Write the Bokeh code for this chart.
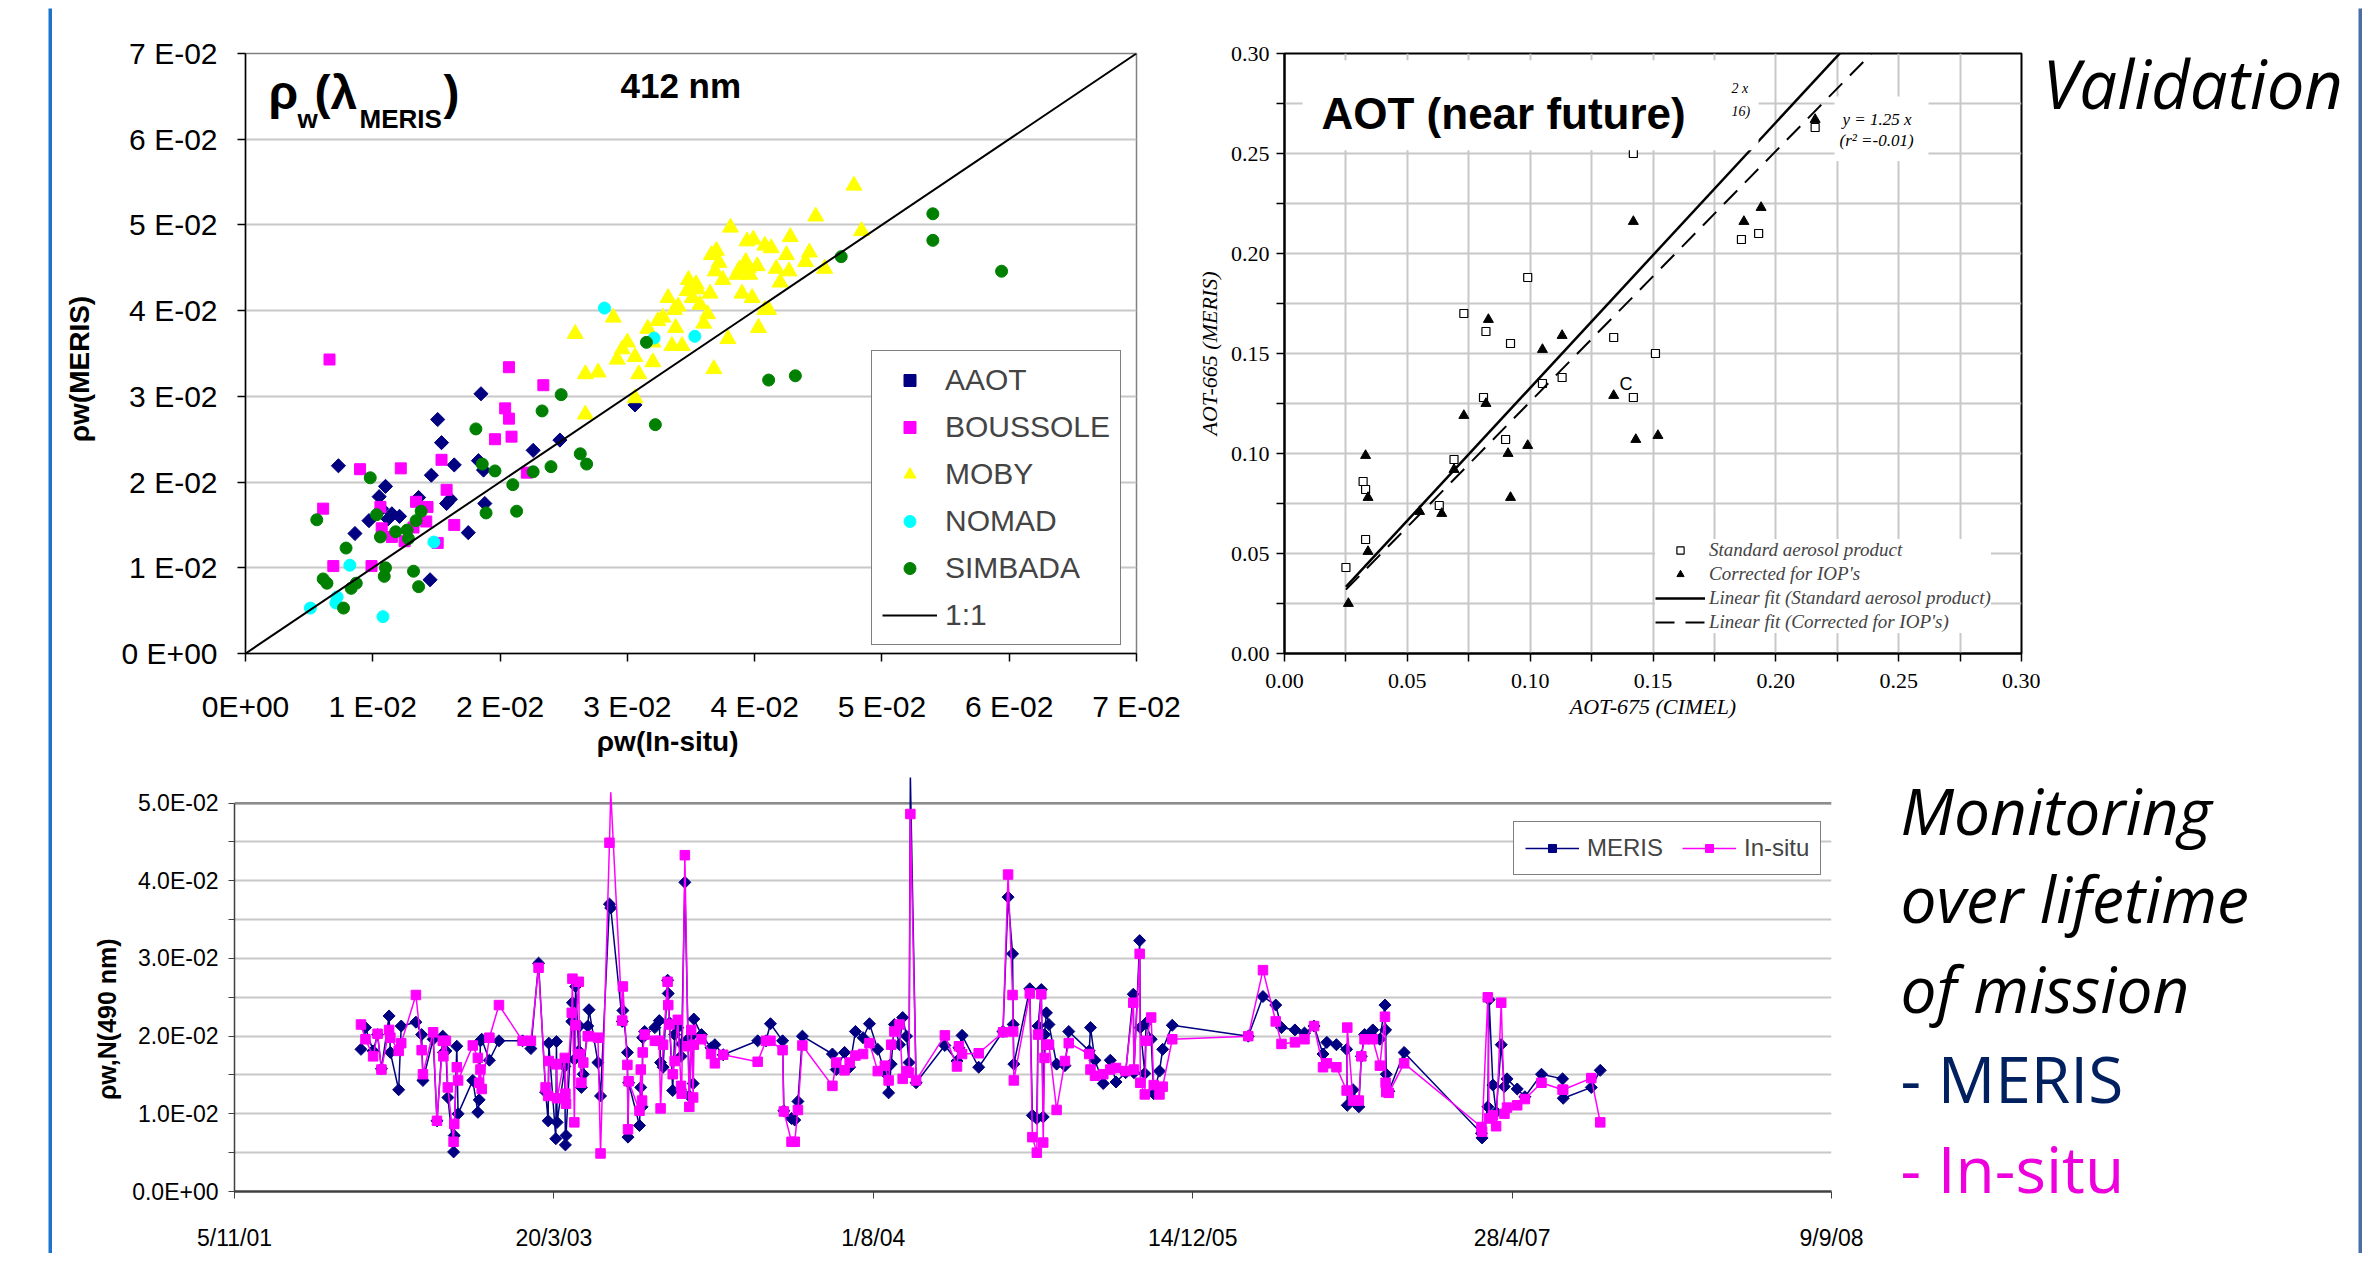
import math
import pandas as pd
from bokeh.plotting import figure
from bokeh.models import (Range1d, FixedTicker, CustomJSTickFormatter, Legend, LegendItem,
                          Label, BoxAnnotation, Span, ColumnDataSource, CDSView, BooleanFilter, Spacer)
from bokeh.layouts import row, column
from bokeh.embed import file_html
from bokeh.resources import INLINE

# ======================= DATA =======================
# --- scatter: rho_w(412) MERIS vs in-situ ---
aaot_x = [7.3e-3, 8.6e-3, 9.7e-3, 10.5e-3, 10.7e-3, 11.0e-3, 11.2e-3, 11.5e-3, 12.1e-3, 13.6e-3, 14.6e-3, 14.5e-3,
          15.1e-3, 15.4e-3, 15.8e-3, 16.1e-3, 16.4e-3, 17.5e-3, 18.3e-3, 18.5e-3, 18.7e-3, 18.8e-3, 22.6e-3, 24.7e-3, 30.6e-3]
aaot_y = [21.9e-3, 14.0e-3, 15.5e-3, 18.3e-3, 16.9e-3, 19.5e-3, 15.7e-3, 16.3e-3, 16.0e-3, 18.2e-3, 20.8e-3, 8.6e-3,
          27.3e-3, 24.6e-3, 17.5e-3, 18.0e-3, 22.0e-3, 14.1e-3, 22.5e-3, 30.3e-3, 21.4e-3, 17.5e-3, 23.7e-3, 24.9e-3, 29.0e-3]
bous_x = [6.6e-3, 6.1e-3, 6.9e-3, 9.0e-3, 9.9e-3, 10.6e-3, 10.7e-3, 11.5e-3, 12.2e-3, 12.5e-3, 13.2e-3, 13.4e-3, 14.2e-3,
          14.3e-3, 15.1e-3, 15.4e-3, 15.8e-3, 16.4e-3, 19.6e-3, 20.4e-3, 20.7e-3, 20.7e-3, 20.9e-3, 22.1e-3, 23.4e-3]
bous_y = [34.3e-3, 16.9e-3, 10.2e-3, 21.5e-3, 10.2e-3, 17.1e-3, 14.6e-3, 13.6e-3, 21.6e-3, 13.1e-3, 14.7e-3, 17.7e-3, 15.4e-3,
          17.1e-3, 12.9e-3, 22.6e-3, 19.1e-3, 15.0e-3, 25.0e-3, 28.6e-3, 27.4e-3, 33.4e-3, 25.3e-3, 21.1e-3, 31.3e-3]
moby_x = [25.9e-3, 26.7e-3, 26.7e-3, 27.7e-3, 28.9e-3, 29.2e-3, 29.6e-3, 30.0e-3, 30.6e-3, 30.6e-3, 30.9e-3, 31.6e-3,
          32.0e-3, 32.0e-3, 32.4e-3, 32.8e-3, 33.2e-3, 33.5e-3, 33.7e-3, 33.8e-3, 34.3e-3, 34.7e-3, 34.8e-3, 35.1e-3,
          35.4e-3, 35.7e-3, 36.0e-3, 36.3e-3, 36.6e-3, 36.8e-3, 36.9e-3, 37.2e-3, 37.5e-3, 37.9e-3, 38.1e-3, 38.6e-3,
          39.0e-3, 39.3e-3, 39.4e-3, 39.6e-3, 39.8e-3, 39.9e-3, 40.2e-3, 40.3e-3, 40.8e-3, 41.1e-3, 40.8e-3, 41.3e-3,
          41.7e-3, 42.0e-3, 42.5e-3, 42.7e-3, 42.8e-3, 44.0e-3, 44.3e-3, 44.8e-3, 45.5e-3, 47.8e-3, 48.4e-3, 36.5e-3,
          37.0e-3, 38.8e-3, 39.5e-3, 35.5e-3, 34.0e-3]
moby_y = [37.3e-3, 27.9e-3, 32.6e-3, 32.8e-3, 39.2e-3, 34.3e-3, 35.5e-3, 36.3e-3, 29.8e-3, 34.6e-3, 32.6e-3, 37.9e-3,
          34.0e-3, 36.3e-3, 38.8e-3, 39.2e-3, 41.5e-3, 35.9e-3, 40.1e-3, 38.0e-3, 35.9e-3, 42.3e-3, 43.6e-3, 41.5e-3,
          43.1e-3, 40.7e-3, 38.5e-3, 39.6e-3, 46.5e-3, 33.2e-3, 44.6e-3, 45.6e-3, 43.6e-3, 36.7e-3, 49.7e-3, 44.2e-3,
          42.0e-3, 45.7e-3, 48.1e-3, 44.2e-3, 41.5e-3, 48.3e-3, 45.2e-3, 38.0e-3, 40.1e-3, 40.1e-3, 47.6e-3, 47.3e-3,
          44.9e-3, 43.3e-3, 46.5e-3, 44.6e-3, 48.6e-3, 45.7e-3, 46.8e-3, 51.0e-3, 44.9e-3, 54.6e-3, 49.3e-3, 42.0e-3,
          47.0e-3, 44.8e-3, 45.0e-3, 42.5e-3, 40.5e-3]
nomad_x = [5.1e-3, 7.2e-3, 7.1e-3, 8.2e-3, 10.8e-3, 14.8e-3, 28.2e-3, 32.1e-3, 35.3e-3]
nomad_y = [5.3e-3, 6.6e-3, 5.9e-3, 10.3e-3, 4.3e-3, 13.0e-3, 40.3e-3, 36.8e-3, 37.0e-3]
simb_x = [5.6e-3, 6.1e-3, 6.4e-3, 7.7e-3, 7.9e-3, 8.3e-3, 8.7e-3, 9.8e-3, 10.3e-3, 10.6e-3, 11.0e-3, 10.9e-3, 11.8e-3,
          12.7e-3, 12.8e-3, 13.2e-3, 13.4e-3, 13.6e-3, 13.8e-3, 18.1e-3, 18.6e-3, 18.9e-3, 19.6e-3, 21.0e-3, 21.3e-3,
          22.6e-3, 23.3e-3, 24.0e-3, 24.8e-3, 26.3e-3, 26.8e-3, 31.5e-3, 32.2e-3, 41.1e-3, 43.2e-3, 46.8e-3, 54.0e-3,
          54.0e-3, 59.4e-3]
simb_y = [15.6e-3, 8.7e-3, 8.2e-3, 5.3e-3, 12.3e-3, 7.6e-3, 8.2e-3, 20.5e-3, 16.2e-3, 13.6e-3, 10.0e-3, 9.0e-3, 14.2e-3,
          14.4e-3, 13.4e-3, 9.6e-3, 15.5e-3, 7.8e-3, 16.6e-3, 26.2e-3, 22.1e-3, 16.4e-3, 21.3e-3, 19.7e-3, 16.6e-3,
          21.2e-3, 28.3e-3, 21.8e-3, 30.2e-3, 23.3e-3, 22.1e-3, 36.3e-3, 26.7e-3, 31.9e-3, 32.4e-3, 46.3e-3, 51.3e-3,
          48.2e-3, 44.6e-3]
one_to_one = [0.0, 0.07]
scatter_ticks = [0.0, 0.01, 0.02, 0.03, 0.04, 0.05, 0.06, 0.07]

# --- AOT validation ---
std_x = [0.025, 0.032, 0.033, 0.033, 0.063, 0.069, 0.073, 0.081, 0.082, 0.090, 0.092, 0.099, 0.105, 0.113,
         0.134, 0.142, 0.142, 0.151, 0.186, 0.193, 0.216]
std_y = [0.043, 0.086, 0.082, 0.057, 0.074, 0.097, 0.170, 0.128, 0.161, 0.107, 0.155, 0.188, 0.135, 0.138,
         0.158, 0.128, 0.250, 0.150, 0.207, 0.210, 0.263]
cor_x = [0.026, 0.033, 0.034, 0.034, 0.055, 0.064, 0.069, 0.073, 0.082, 0.083, 0.091, 0.092, 0.099, 0.105,
         0.113, 0.134, 0.142, 0.143, 0.152, 0.187, 0.194, 0.216]
cor_y = [0.025, 0.099, 0.078, 0.051, 0.071, 0.070, 0.092, 0.119, 0.125, 0.167, 0.100, 0.078, 0.104, 0.152,
         0.159, 0.129, 0.216, 0.107, 0.109, 0.216, 0.223, 0.267]
fit_names = ["Linear fit (Standard aerosol product)", "Linear fit (Corrected for IOP's)"]
fit_slope = [1.327, 1.253]
fit_intercept = [0.0001, 0.0006]
fit_x = [0.025, 0.25]
aot_ticks = [0.0, 0.025, 0.05, 0.075, 0.10, 0.125, 0.15, 0.175, 0.20, 0.225, 0.25, 0.275, 0.30]

# --- time series rho_w,N(490) ---
ts_base = "2001-11-05"
ts_day = [198, 205, 217, 224, 230, 242, 244, 257, 261, 284, 293, 295, 311, 317, 326, 327, 331, 334, 343, 344,
          348, 350, 373, 381, 383, 385, 387, 399, 414, 451, 464, 476, 487, 491, 492, 503, 504, 505, 517, 518,
          519, 528, 529, 532, 534, 539, 540, 543, 546, 553, 555, 569, 573, 587, 589, 607, 608, 615, 616, 617,
          634, 636, 638, 639, 642, 658, 665, 667, 671, 678, 679, 681, 686, 689, 694, 699, 700, 705, 710, 712,
          715, 718, 719, 731, 746, 752, 765, 819, 832, 839, 858, 860, 872, 877, 882, 889, 936, 942, 955, 963,
          972, 984, 994, 1007, 1018, 1024, 1028, 1033, 1041, 1046, 1052, 1056, 1058, 1067, 1112, 1131, 1134, 1139,
          1165, 1203, 1211, 1218, 1219, 1220, 1245, 1249, 1256, 1258, 1263, 1266, 1268, 1271, 1275, 1287, 1300,
          1306, 1338, 1340, 1347, 1360, 1371, 1380, 1395, 1407, 1408, 1417, 1418, 1425, 1427, 1435, 1439, 1448,
          1453, 1468, 1587, 1610, 1630, 1639, 1660, 1675, 1690, 1704, 1710, 1725, 1741, 1742, 1751, 1760, 1764,
          1769, 1782, 1793, 1801, 1802, 1803, 1807, 1831, 1952, 1953, 1962, 1964, 1970, 1975, 1983, 1988, 1992,
          2008, 2020, 2046, 2079, 2080, 2124, 2138]
meris = [18.3e-3, 21.1e-3, 18.1e-3, 20.2e-3, 15.8e-3, 22.6e-3, 17.9e-3, 13.1e-3, 21.3e-3, 21.8e-3, 20.2e-3, 14.3e-3,
         19.6e-3, 9.1e-3, 20.0e-3, 17.9e-3, 18.1e-3, 12.1e-3, 5.1e-3, 7.2e-3, 18.7e-3, 10.0e-3, 14.3e-3, 10.2e-3,
         11.8e-3, 19.4e-3, 19.6e-3, 16.9e-3, 19.4e-3, 19.4e-3, 18.4e-3, 29.4e-3, 12.8e-3, 9.1e-3, 19.1e-3, 6.8e-3,
         19.3e-3, 8.9e-3, 16.1e-3, 6.0e-3, 7.2e-3, 21.9e-3, 24.3e-3, 17.0e-3, 26.4e-3, 18.1e-3, 21.3e-3, 13.4e-3,
         15.1e-3, 21.3e-3, 23.4e-3, 16.6e-3, 12.3e-3, 37.0e-3, 36.5e-3, 21.9e-3, 23.3e-3, 17.9e-3, 7.0e-3, 14.0e-3,
         8.5e-3, 13.4e-3, 10.9e-3, 19.8e-3, 20.6e-3, 21.1e-3, 22.0e-3, 16.6e-3, 16.0e-3, 27.2e-3, 25.5e-3, 21.7e-3,
         13.0e-3, 20.2e-3, 21.1e-3, 17.4e-3, 19.0e-3, 39.8e-3, 19.6e-3, 12.3e-3, 20.0e-3, 13.9e-3, 22.2e-3, 20.2e-3,
         18.5e-3, 18.9e-3, 17.6e-3, 19.4e-3, 19.4e-3, 21.6e-3, 19.4e-3, 10.4e-3, 9.4e-3, 9.2e-3, 11.6e-3, 20.0e-3,
         17.7e-3, 15.7e-3, 17.9e-3, 16.0e-3, 20.6e-3, 19.8e-3, 21.6e-3, 18.3e-3, 15.3e-3, 12.7e-3, 16.4e-3, 21.5e-3,
         18.9e-3, 22.4e-3, 20.0e-3, 16.6e-3, 53.6e-3, 14.0e-3, 18.8e-3, 16.8e-3, 18.5e-3, 20.1e-3, 16.0e-3, 20.6e-3,
         37.9e-3, 30.6e-3, 21.5e-3, 16.4e-3, 26.1e-3, 9.8e-3, 9.4e-3, 21.3e-3, 26.0e-3, 9.6e-3, 20.2e-3, 23.0e-3,
         21.5e-3, 16.4e-3, 16.2e-3, 20.6e-3, 18.1e-3, 21.1e-3, 16.9e-3, 13.9e-3, 16.9e-3, 14.1e-3, 15.3e-3, 25.4e-3,
         15.3e-3, 32.3e-3, 21.1e-3, 15.2e-3, 21.7e-3, 19.6e-3, 12.6e-3, 15.5e-3, 18.3e-3, 21.4e-3, 20.0e-3, 25.1e-3,
         24.0e-3, 21.1e-3, 20.8e-3, 20.4e-3, 21.3e-3, 17.7e-3, 19.2e-3, 18.9e-3, 18.3e-3, 11.1e-3, 13.1e-3, 10.9e-3,
         17.4e-3, 20.2e-3, 20.8e-3, 19.6e-3, 24.0e-3, 20.8e-3, 15.1e-3, 12.9e-3, 17.9e-3, 7.5e-3, 6.9e-3, 10.9e-3,
         24.7e-3, 13.7e-3, 10.2e-3, 18.9e-3, 13.5e-3, 14.5e-3, 13.2e-3, 12.2e-3, 15.1e-3, 14.5e-3, 12.0e-3, 13.4e-3,
         15.6e-3]
insitu = [21.5e-3, 19.6e-3, 17.4e-3, 20.3e-3, 15.7e-3, 20.8e-3, 19.8e-3, 18.1e-3, 19.1e-3, 25.3e-3, 18.2e-3, 15.1e-3,
          20.5e-3, 9.1e-3, 19.4e-3, 17.4e-3, 19.4e-3, 13.4e-3, 6.4e-3, 8.7e-3, 16.0e-3, 14.3e-3, 18.8e-3, 17.2e-3,
          14.0e-3, 15.7e-3, 13.2e-3, 19.8e-3, 24.0e-3, 19.4e-3, 19.4e-3, 28.8e-3, 13.4e-3, 12.3e-3, 16.8e-3, 16.4e-3,
          16.4e-3, 12.0e-3, 17.2e-3, 12.6e-3, 11.3e-3, 23.0e-3, 27.4e-3, 8.9e-3, 21.4e-3, 27.0e-3, 17.7e-3, 14.0e-3,
          16.6e-3, 20.0e-3, 20.0e-3, 19.8e-3, 4.9e-3, 44.9e-3, 51.4e-3, 22.0e-3, 26.4e-3, 16.3e-3, 8.0e-3, 14.2e-3,
          10.4e-3, 15.7e-3, 11.7e-3, 17.9e-3, 20.2e-3, 19.4e-3, 19.4e-3, 10.7e-3, 18.9e-3, 27.0e-3, 24.0e-3, 21.5e-3,
          15.1e-3, 16.8e-3, 22.1e-3, 13.6e-3, 12.6e-3, 43.3e-3, 18.7e-3, 10.9e-3, 20.8e-3, 12.1e-3, 18.9e-3, 19.6e-3,
          17.7e-3, 16.5e-3, 17.6e-3, 16.7e-3, 19.4e-3, 19.4e-3, 18.2e-3, 10.3e-3, 6.4e-3, 6.4e-3, 10.5e-3, 18.8e-3,
          13.6e-3, 16.6e-3, 15.6e-3, 16.6e-3, 17.5e-3, 17.7e-3, 19.1e-3, 15.5e-3, 16.2e-3, 14.3e-3, 18.9e-3, 20.6e-3,
          21.5e-3, 14.5e-3, 15.5e-3, 15.3e-3, 48.6e-3, 14.3e-3, 20.1e-3, 16.1e-3, 18.7e-3, 17.7e-3, 17.8e-3, 20.5e-3,
          40.8e-3, 25.3e-3, 20.6e-3, 14.3e-3, 25.5e-3, 7.0e-3, 5.0e-3, 20.2e-3, 25.4e-3, 6.3e-3, 17.2e-3, 18.9e-3,
          18.9e-3, 10.5e-3, 16.8e-3, 19.1e-3, 17.7e-3, 15.7e-3, 14.9e-3, 15.1e-3, 15.7e-3, 15.9e-3, 15.5e-3, 24.3e-3,
          15.7e-3, 30.6e-3, 14.0e-3, 12.5e-3, 19.4e-3, 22.4e-3, 13.7e-3, 12.5e-3, 13.5e-3, 19.6e-3, 20.0e-3, 28.5e-3,
          21.9e-3, 19.0e-3, 19.2e-3, 19.6e-3, 21.3e-3, 16.0e-3, 16.5e-3, 16.0e-3, 13.0e-3, 21.1e-3, 11.7e-3, 11.7e-3,
          17.4e-3, 19.6e-3, 19.6e-3, 16.2e-3, 22.5e-3, 14.0e-3, 12.8e-3, 12.7e-3, 16.5e-3, 8.3e-3, 7.7e-3, 25.0e-3,
          9.4e-3, 9.8e-3, 8.4e-3, 24.3e-3, 10.0e-3, 10.8e-3, 11.1e-3, 11.9e-3, 14.0e-3, 13.1e-3, 13.1e-3, 14.6e-3,
          8.9e-3]
ts_tick_step_days = 500
ts_span_days = 2500
ts_y_ticks = [i * 0.005 for i in range(11)]
ts_axis_max_label = 0.05

# ======================= HELPERS =======================
def lin(px, p0, p1, v0, v1):
    return v0 + (px - p0) * (v1 - v0) / (p1 - p0)

# half of (ascent - descent): rendered labels sit this far below the requested baseline
MID = {"Liberation Sans": 0.347, "Liberation Serif": 0.338, "Open Sans": 0.388}
NB = "\u00a0"  # non-breaking space, used to nudge centred axis labels along their axis

def lab(fig, x, y, text, size, font="Liberation Sans", style="normal", color="black",
        align="left", baseline="alphabetic"):
    yoff = MID.get(font, 0.35) * size if baseline == "alphabetic" else 0.0
    fig.add_layout(Label(x=x, y=y, y_offset=yoff, text=text, text_font=font,
                         text_font_size=f"{size}px", text_font_style=style, text_color=color,
                         text_align=align, text_baseline=baseline))

def text_fig(w, h, bg="white"):
    f = figure(width=w, height=h, x_range=Range1d(0, w), y_range=Range1d(0, h), min_border=0,
               x_axis_location=None, y_axis_location=None, toolbar_location=None,
               output_backend="svg", background_fill_color=bg, border_fill_color=bg)
    f.grid.visible = False
    f.outline_line_color = None
    return f

def iso(fig):
    # wrap so the panel's frame is not aligned with neighbouring plots
    return column(row(fig))

# ======================= SCATTER (top-left) =======================
SX = lambda px: lin(px, 245, 1136, 0.0, 0.07)
SY = lambda py: lin(py, 653, 47, 0.0, 0.07)

p1 = figure(width=1138, height=752, x_range=Range1d(0, 0.07), y_range=Range1d(0, 0.07),
            min_border_left=193, min_border_right=54, min_border_top=39, min_border_bottom=107,
            toolbar_location=None, output_backend="svg",
            x_axis_label="ρw(In-situ)" + NB * 6, y_axis_label="ρw(MERIS)" + NB * 4)
p1.xgrid.visible = False
p1.ygrid.grid_line_color = "#c8c8c8"
p1.ygrid.grid_line_width = 2
p1.outline_line_color = "#808080"
p1.outline_line_width = 1.5
for ax in (p1.xaxis[0], p1.yaxis[0]):
    ax.ticker = FixedTicker(ticks=scatter_ticks)
    ax.major_label_text_font = "Liberation Sans"
    ax.major_label_text_font_size = "30px"
    ax.major_label_text_color = "black"
    ax.major_tick_out = 8
    ax.major_tick_in = 0
    ax.minor_tick_out = 0
    ax.minor_tick_in = 0
    ax.axis_line_color = "black"
    ax.axis_line_width = 1.5
    ax.major_tick_line_color = "black"
    ax.major_tick_line_width = 1.5
    ax.axis_label_text_font = "Liberation Sans"
    ax.axis_label_text_font_style = "bold"
    ax.axis_label_text_font_size = "28px"
    ax.axis_label_text_color = "black"
p1.xaxis[0].major_label_standoff = 28
p1.yaxis[0].major_label_standoff = 20
p1.xaxis[0].axis_label_standoff = 0
p1.yaxis[0].axis_label_standoff = 24
p1.xaxis[0].formatter = CustomJSTickFormatter(code="""
const k = Math.round(tick*100); return k == 0 ? "0E+00" : k + " E-02";""")
p1.yaxis[0].formatter = CustomJSTickFormatter(code="""
const k = Math.round(tick*100); return k == 0 ? "0 E+00" : k + " E-02";""")

r_aaot = p1.scatter(aaot_x, aaot_y, marker="square", angle=math.pi / 4, size=10, color="#000080")
r_bous = p1.scatter(bous_x, bous_y, marker="square", size=11, color="#FF00FF")
r_moby = p1.scatter(moby_x, moby_y, marker="triangle", size=16, color="#FFFF00")
r_nomad = p1.scatter(nomad_x, nomad_y, marker="circle", size=12, color="#00FFFF")
r_simb = p1.scatter(simb_x, simb_y, marker="circle", size=12, color="#008000")
r_11 = p1.line(one_to_one, one_to_one, line_color="black", line_width=2)

leg1 = Legend(items=[LegendItem(label="AAOT", renderers=[r_aaot]),
                     LegendItem(label="BOUSSOLE", renderers=[r_bous]),
                     LegendItem(label="MOBY", renderers=[r_moby]),
                     LegendItem(label="NOMAD", renderers=[r_nomad]),
                     LegendItem(label="SIMBADA", renderers=[r_simb]),
                     LegendItem(label="1:1", renderers=[r_11])],
              location=(626, 8), label_text_font="Liberation Sans", label_text_font_size="30px",
              glyph_width=55, glyph_height=30, label_height=38, spacing=9, padding=10, margin=0,
              label_standoff=8, border_line_color="black", border_line_width=1.5,
              background_fill_color="white", background_fill_alpha=1.0)
p1.add_layout(leg1)

# title pieces  rho_w(lambda_MERIS)
lab(p1, SX(268), SY(103), "ρ", 48, style="bold")
lab(p1, SX(297), SY(122), "w", 26, style="bold")
lab(p1, SX(314), SY(103), "(", 48, style="bold")
lab(p1, SX(330), SY(103), "λ", 48, style="bold")
lab(p1, SX(359), SY(122), "MERIS", 26, style="bold")
lab(p1, SX(443), SY(103), ")", 48, style="bold")
lab(p1, SX(620), SY(92), "412 nm", 35, style="bold")

# ======================= AOT (top-right) =======================
AX = lambda px: lin(px, 1284, 2021, 0.0, 0.3)
AY = lambda py: lin(py, 667, 53, 0.0, 0.3)

p2 = figure(width=850, height=752, x_range=Range1d(0, 0.3), y_range=Range1d(0, 0.3),
            min_border_left=94, min_border_right=19, min_border_top=45, min_border_bottom=93,
            toolbar_location=None, output_backend="svg",
            x_axis_label="AOT-675 (CIMEL)", y_axis_label="AOT-665 (MERIS)")
p2.grid.grid_line_color = "#c8c8c8"
p2.grid.grid_line_width = 2
p2.outline_line_color = "black"
p2.outline_line_width = 2
for ax in (p2.xaxis[0], p2.yaxis[0]):
    ax.ticker = FixedTicker(ticks=aot_ticks)
    ax.formatter = CustomJSTickFormatter(code="""
const k = Math.round(tick*1000); return (k % 50 == 0) ? (k/1000).toFixed(2) : "";""")
    ax.major_label_text_font = "Liberation Serif"
    ax.major_label_text_font_size = "22px"
    ax.major_label_text_color = "black"
    ax.major_tick_out = 8
    ax.major_tick_in = 0
    ax.minor_tick_out = 0
    ax.minor_tick_in = 0
    ax.axis_line_color = "black"
    ax.axis_line_width = 2
    ax.major_tick_line_color = "black"
    ax.major_tick_line_width = 1.5
    ax.axis_label_text_font = "Liberation Serif"
    ax.axis_label_text_font_style = "italic"
    ax.axis_label_text_font_size = "22px"
    ax.axis_label_text_color = "black"
p2.xaxis[0].major_label_standoff = 12
p2.yaxis[0].major_label_standoff = 7
p2.xaxis[0].axis_label_standoff = 3
p2.yaxis[0].axis_label_standoff = 6

r_std = p2.scatter(std_x, std_y, marker="square", size=8, fill_color="white", line_color="black", line_width=1.2)
r_cor = p2.scatter(cor_x, cor_y, marker="triangle", size=10, color="black")
fit_y0 = [fit_slope[0] * x + fit_intercept[0] for x in fit_x]
fit_y1 = [fit_slope[1] * x + fit_intercept[1] for x in fit_x]
r_f0 = p2.line(fit_x, fit_y0, line_color="black", line_width=2.5)
r_f1 = p2.line(fit_x, fit_y1, line_color="black", line_width=2, line_dash="19 11")

leg2 = Legend(items=[LegendItem(label="Standard aerosol product", renderers=[r_std]),
                     LegendItem(label="Corrected for IOP's", renderers=[r_cor]),
                     LegendItem(label=fit_names[0], renderers=[r_f0]),
                     LegendItem(label=fit_names[1], renderers=[r_f1])],
              location=(371, 20), label_text_font="Liberation Serif", label_text_font_style="italic",
              label_text_font_size="19px", glyph_width=50, glyph_height=18, label_height=21, spacing=2,
              padding=5, margin=0, label_standoff=4, border_line_color=None,
              background_fill_color="white", background_fill_alpha=1.0)
p2.add_layout(leg2)

p2.add_layout(BoxAnnotation(left=AX(1302), right=AX(1758), bottom=AY(152), top=AY(60),
                            fill_color="white", fill_alpha=1.0, line_color=None))
p2.add_layout(BoxAnnotation(left=AX(1834), right=AX(1928), bottom=AY(163), top=AY(97),
                            fill_color="white", fill_alpha=1.0, line_color=None))
lab(p2, AX(1321), AY(130), "AOT (near future)", 44, style="bold")
lab(p2, AX(1731), AY(94), "2 x", 14, font="Liberation Serif", style="italic")
lab(p2, AX(1731), AY(117), "16)", 14, font="Liberation Serif", style="italic")
lab(p2, AX(1842), AY(126), "y = 1.25 x", 17, font="Liberation Serif", style="italic")
lab(p2, AX(1839), AY(148), "(r² =-0.01)", 17, font="Liberation Serif", style="italic")
lab(p2, 0.139, 0.135, "C", 18, align="center", baseline="middle")

# ======================= TIME SERIES (bottom) =======================
base = pd.Timestamp(ts_base)
ms = lambda ts: ts.value / 1e6
t0 = ms(base)
t1 = ms(base + pd.Timedelta(days=ts_span_days))
ts_dates = (base + pd.to_timedelta(ts_day, unit="D")).to_numpy()

p3 = figure(width=1834, height=493, x_axis_type="datetime", x_range=Range1d(t0, t1),
            y_range=Range1d(0, 0.0533),
            min_border_left=182, min_border_right=55, min_border_top=17, min_border_bottom=58,
            toolbar_location=None, output_backend="svg", y_axis_label="ρw,N(490 nm)" + NB * 10)
p3.xgrid.visible = False
p3.ygrid.grid_line_color = "#c8c8c8"
p3.ygrid.grid_line_width = 2
p3.outline_line_color = None
p3.xaxis[0].ticker = FixedTicker(ticks=[ms(base + pd.Timedelta(days=ts_tick_step_days * i))
                                        for i in range(ts_span_days // ts_tick_step_days + 1)])
p3.xaxis[0].formatter = CustomJSTickFormatter(code="""
const d = new Date(tick);
return d.getUTCDate() + "/" + (d.getUTCMonth()+1) + "/" + String(d.getUTCFullYear()).slice(2);""")
p3.yaxis[0].ticker = FixedTicker(ticks=ts_y_ticks)
p3.yaxis[0].formatter = CustomJSTickFormatter(code="""
const k = Math.round(tick*1000);
if (k % 10 != 0) return "";
if (k == 0) return "0.0E+00";
return (k/10).toFixed(1) + "E-02";""")
for ax in (p3.xaxis[0], p3.yaxis[0]):
    ax.major_label_text_font = "Liberation Sans"
    ax.major_label_text_font_size = "23px"
    ax.major_label_text_color = "black"
    ax.major_tick_in = 0
    ax.minor_tick_out = 0
    ax.minor_tick_in = 0
    ax.major_tick_line_color = "#404040"
p3.xaxis[0].major_tick_out = 7
p3.xaxis[0].major_label_standoff = 26
p3.xaxis[0].axis_line_color = "#404040"
p3.xaxis[0].axis_line_width = 2.5
p3.yaxis[0].major_tick_out = 6
p3.yaxis[0].major_label_standoff = 10
p3.yaxis[0].axis_line_color = "#404040"
p3.yaxis[0].axis_line_width = 1.5
p3.yaxis[0].bounds = (0, ts_axis_max_label)
p3.yaxis[0].axis_label_text_font = "Liberation Sans"
p3.yaxis[0].axis_label_text_font_style = "bold"
p3.yaxis[0].axis_label_text_font_size = "25px"
p3.yaxis[0].axis_label_text_color = "black"
p3.yaxis[0].axis_label_standoff = 8
p3.add_layout(Span(location=ts_axis_max_label, dimension="width", line_color="#8c8c8c",
                   line_width=2.5, level="underlay"))

src = ColumnDataSource(dict(t=ts_dates, m=meris, i=insitu))
view_m = CDSView(filter=BooleanFilter([v <= ts_axis_max_label for v in meris]))
view_i = CDSView(filter=BooleanFilter([v <= ts_axis_max_label for v in insitu]))
lm = p3.line("t", "m", source=src, line_color="#000080", line_width=1.5)
sm = p3.scatter("t", "m", source=src, view=view_m, marker="square", angle=math.pi / 4, size=8.5,
                color="#000080")
li = p3.line("t", "i", source=src, line_color="#FF00FF", line_width=1.5)
si = p3.scatter("t", "i", source=src, view=view_i, marker="square", size=9.5, color="#FF00FF")

leg3 = Legend(items=[LegendItem(label="MERIS", renderers=[lm, sm]),
                     LegendItem(label="In-situ", renderers=[li, si])],
              location=(1279, 316), orientation="horizontal", label_text_font="Liberation Sans",
              label_text_font_size="24px", glyph_width=54, glyph_height=20, label_height=30,
              padding=11, spacing=19, label_standoff=8, margin=0, border_line_color="black",
              border_line_width=1.5, background_fill_color="white", background_fill_alpha=1.0)
p3.add_layout(leg3)

# ======================= TEXT PANELS =======================
p_val = text_fig(318, 752)
lab(p_val, 2, 652, "Validation", 67, font="Open Sans", style="italic")

p_mon = text_fig(472, 493)
lab(p_mon, 14, 418, "Monitoring", 64, font="Open Sans", style="italic")
lab(p_mon, 14, 330, "over lifetime", 64, font="Open Sans", style="italic")
lab(p_mon, 14, 240, "of mission", 64, font="Open Sans", style="italic")
lab(p_mon, 14, 150, "- MERIS", 64, font="Open Sans", color="#002060")
lab(p_mon, 14, 60, "- In-situ", 64, font="Open Sans", color="#ee00dd")

vl = text_fig(4, 1245, bg="#1a74cc")
vr = text_fig(4, 1245, bg="#4a6fa5")

top = row(p1, p2, iso(p_val))
bottom = row(p3, iso(p_mon))
inner = column(top, bottom)
layout = column(Spacer(width=2362, height=8),
                row(Spacer(width=48, height=1245), iso(vl), inner, iso(vr)))

open("out.html", "w").write(file_html(layout, INLINE))
